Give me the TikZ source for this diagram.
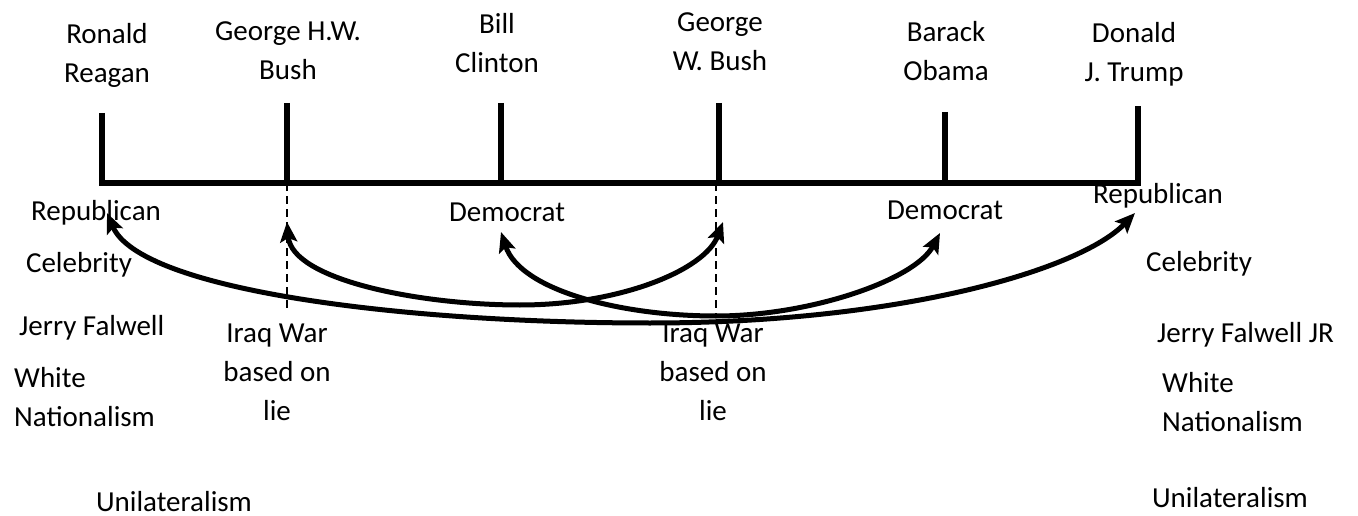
\documentclass[tikz,border=0pt]{standalone}
\usepackage{fontspec}
\setmainfont{Carlito}
\usetikzlibrary{arrows.meta}

\begin{document}
\begin{tikzpicture}[x=1pt,y=-1pt,
  every node/.style={inner sep=0pt,font=\fontsize{29}{39}\selectfont},
  pres/.style={align=center},
  bar/.style={line width=6.5pt},
  lie/.style={dash pattern=on 8pt off 5pt,line width=1.8pt},
  tie/.style={line width=5pt,arrows={Stealth[length=20pt,width=17pt,inset=4pt]-Stealth[length=20pt,width=17pt,inset=4pt]}}]
\useasboundingbox (0,0) rectangle (1358,516);

% Names
\node[pres] (rr) at (107,55) {Ronald\\Reagan};
\node[pres] (gb) at (288,50.5) {George H.W.\\Bush};
\node[pres] (bc) at (497,43) {Bill\\Clinton};
\node[pres] (gw) at (720,41.5) {George\\W. Bush};
\node[pres] (bo) at (946,51) {Barack\\Obama};
\node[pres] (dt) at (1134,54) {Donald\\J. Trump};

% Points
\coordinate (t1) at (102,113);
\coordinate (t2) at (287,103);
\coordinate (t3) at (501,103);
\coordinate (t4) at (719,103);
\coordinate (t5) at (945,112);
\coordinate (t6) at (1138,106);
\coordinate (b1) at (102,183);
\coordinate (b2) at (287,183);
\coordinate (b3) at (501,183);
\coordinate (b4) at (719,183);
\coordinate (b5) at (945,183);
\coordinate (b6) at (1138,183);
\coordinate (e1) at (287,311);
\coordinate (e2) at (716,315);
\coordinate (f2) at (716,183);

% Labels
\node[anchor=base] (rep1) at (96,220) {Republican};
\node[anchor=base] (cel1) at (79,272) {Celebrity};
\node[anchor=base west] (jf1) at (19,335) {Jerry Falwell};
\node[anchor=west,align=left] (wn1) at (14,397.5) {White\\Nationalism};
\node[anchor=base] (un1) at (174,511) {Unilateralism};
\node[pres] (iw1) at (277,372.5) {Iraq War\\based on\\lie};
\node[anchor=base] (dem1) at (507,222) {Democrat};
\node[pres] (iw2) at (713,372.5) {Iraq War\\based on\\lie};
\node[anchor=base] (dem2) at (945,219) {Democrat};
\node[anchor=base] (rep2) at (1158,204) {Republican};
\node[anchor=base] (cel2) at (1199,271) {Celebrity};
\node[anchor=base west] (jf2) at (1157,342) {Jerry Falwell JR};
\node[anchor=west,align=left] (wn2) at (1162,402) {White\\Nationalism};
\node[anchor=base] (un2) at (1230,507) {Unilateralism};

%Lines
\draw[lie] (b2) -- (e1);
\draw[lie] (f2) -- (e2);
\draw[bar] (t1) -- (b1) -- (b6) -- (t6);
\draw[bar] (t2) -- (b2);
\draw[bar] (t3) -- (b3);
\draw[bar] (t4) -- (b4);
\draw[bar] (t5) -- (b5);

% Arrows
\coordinate (a1) at (107,213);
\coordinate (a2) at (1135,213);
\coordinate (m1) at (650,323);
\coordinate (c1) at (287,222);
\coordinate (c2) at (723,222);
\coordinate (m2) at (520,305);
\coordinate (d1) at (501,232);
\coordinate (d2) at (940,233);
\coordinate (m3) at (716,316);
\draw[tie] (a1) .. controls (140,290) and (400,323) .. (m1) .. controls (900,323) and (1080,270) .. (a2);
\draw[tie] (c1) .. controls (292,280) and (420,305) .. (m2) .. controls (620,305) and (705,270) .. (c2);
\draw[tie] (d1) .. controls (520,290) and (620,316) .. (m3) .. controls (810,316) and (915,280) .. (d2);
\end{tikzpicture}
\end{document}
